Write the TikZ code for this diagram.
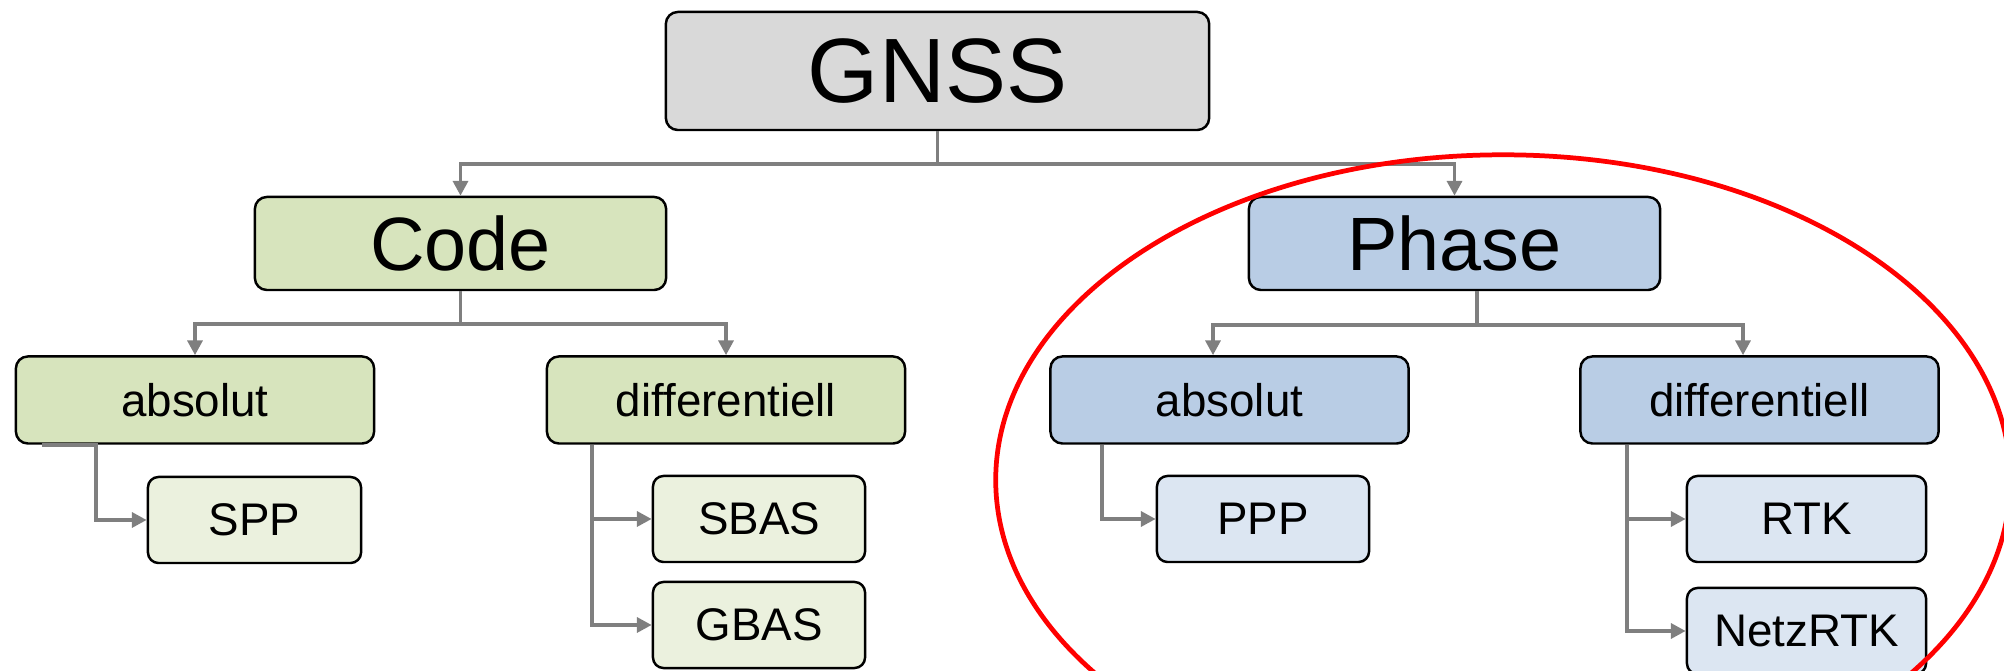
\documentclass[tikz,border=0pt]{standalone}
\usepackage{fontspec}
\setmainfont{Liberation Sans}
\usetikzlibrary{arrows.meta}

\definecolor{rootfill}{HTML}{D9D9D9}
\definecolor{codefill}{HTML}{D7E4BD}
\definecolor{codelight}{HTML}{EBF1DE}
\definecolor{phasefill}{HTML}{B9CDE5}
\definecolor{phaselight}{HTML}{DCE6F2}
\definecolor{linkgray}{HTML}{7F7F7F}

\begin{document}
\begin{tikzpicture}[x=0.01cm, y=-0.01cm,
  box/.style={draw=black, line width=0.7pt, rounded corners=3.4pt,
              inner sep=0pt, align=center},
  rootbox/.style={box, fill=rootfill, minimum width=5.43cm, minimum height=1.18cm,
                  font=\fontsize{26}{30}\selectfont},
  mainbox/.style={box, minimum width=4.11cm, minimum height=0.93cm,
                  font=\fontsize{21.5}{25}\selectfont},
  modebox/.style={box, minimum width=3.58cm, minimum height=0.87cm,
                  font=\fontsize{13}{15}\selectfont},
  leafbox/.style={box, minimum height=0.86cm, rounded corners=3pt,
                  font=\fontsize{13}{15}\selectfont},
  link/.style={draw=linkgray, line width=1.05pt},
  linkarrow/.style={link, -{Triangle[length=4.2pt,width=4.2pt]}},
  ring/.style={draw=red, line width=1.35pt}
]
\useasboundingbox (0,0) rectangle (2004,671);

% root
\node[rootbox] (gnss) at (937.5,71) {GNSS};

% second level
\node[mainbox, fill=codefill]  (code)  at (460.5,243.5) {Code};
\node[mainbox, fill=phasefill] (phase) at (1454.5,243.5) {Phase};

% third level
\node[modebox, fill=codefill]  (cabs)  at (195,400)    {absolut};
\node[modebox, fill=codefill]  (cdiff) at (726,400)    {differentiell};
\node[modebox, fill=phasefill] (pabs)  at (1229.5,400) {absolut};
\node[modebox, fill=phasefill] (pdiff) at (1759.5,400) {differentiell};

% methods
\node[leafbox, fill=codelight, minimum width=2.13cm]  (spp)  at (254.5,520) {SPP};
\node[leafbox, fill=codelight, minimum width=2.12cm]  (sbas) at (759,519)   {SBAS};
\node[leafbox, fill=codelight, minimum width=2.12cm]  (gbas) at (759,625)   {GBAS};
\node[leafbox, fill=phaselight, minimum width=2.12cm] (ppp)  at (1263,519)  {PPP};
\node[leafbox, fill=phaselight, minimum width=2.39cm] (rtk)  at (1806.5,519) {RTK};
\node[leafbox, fill=phaselight, minimum width=2.39cm] (netz) at (1806.5,631) {NetzRTK};

% root -> code / phase
\draw[link] (gnss.south) -- ++(0,33) coordinate (gbar);
\draw[linkarrow] (gbar) -| (code.north);
\draw[linkarrow] (gbar) -| (phase.north);

% code -> absolut / differentiell
\draw[link] (code.south) -- ++(0,33) coordinate (cbar);
\draw[linkarrow] (cbar) -| (cabs.north);
\draw[linkarrow] (cbar) -| (cdiff.north);

% phase -> absolut / differentiell
\draw[link] ([xshift=0.225cm]phase.south) -- ++(0,34) coordinate (pbar);
\draw[linkarrow] (pbar) -| ([xshift=-0.165cm]pabs.north);
\draw[linkarrow] (pbar) -| ([xshift=-0.165cm]pdiff.north);

% modes -> methods
\draw[linkarrow] ([xshift=0.27cm]cabs.south west) -- ++(54,0) |- (spp.west);
\draw[linkarrow] ([xshift=0.46cm]cdiff.south west) |- (sbas.west);
\draw[linkarrow] ([xshift=0.46cm]cdiff.south west) |- (gbas.west);
\draw[linkarrow] ([xshift=0.53cm]pabs.south west) |- (ppp.west);
\draw[linkarrow] ([xshift=0.48cm]pdiff.south west) |- (rtk.west);
\draw[linkarrow] ([xshift=0.48cm]pdiff.south west) |- (netz.west);

% highlight around the carrier-phase branch
\draw[ring] (1503,480) ellipse [x radius=5.07cm, y radius=3.25cm];
\end{tikzpicture}
\end{document}
